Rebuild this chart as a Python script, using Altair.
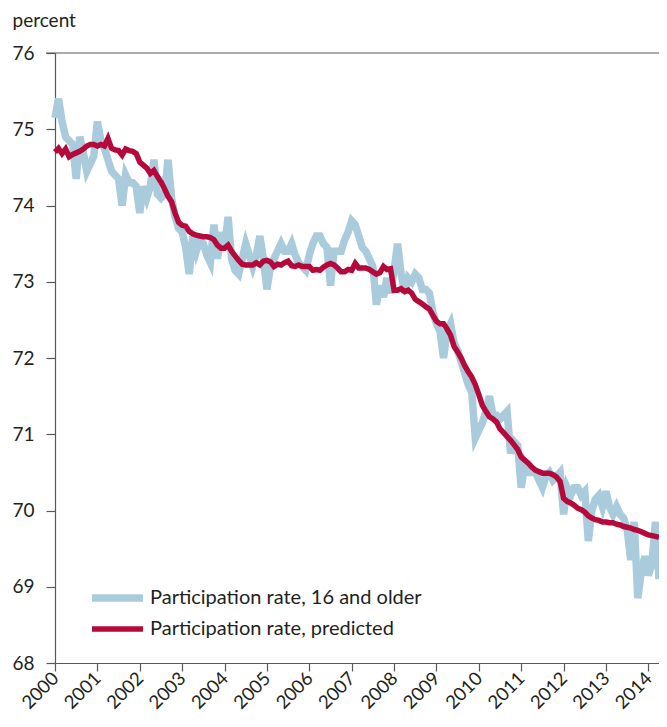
import altair as alt
import pandas as pd

# Monthly values, Jan 2000 .. Apr 2014 (172 months)
actual = [
    # 2000
    75.15, 75.4, 75.1, 74.9, 74.85, 74.8, 74.35, 74.9, 74.7, 74.45, 74.55, 74.65,
    # 2001
    75.1, 74.85, 74.75, 74.6, 74.45, 74.4, 74.35, 74.0, 74.4, 74.3, 74.3, 74.25,
    # 2002
    73.9, 74.25, 74.1, 74.25, 74.6, 74.15, 74.1, 74.15, 74.6, 74.1, 73.85, 73.7,
    # 2003
    73.65, 73.45, 73.1, 73.6, 73.4, 73.55, 73.5, 73.35, 73.25, 73.75, 73.3, 73.65,
    # 2004
    73.45, 73.85, 73.3, 73.15, 73.1, 73.3, 73.5, 73.35, 73.2, 73.35, 73.6, 73.3,
    # 2005
    72.9, 73.2, 73.3, 73.4, 73.5, 73.4, 73.4, 73.5, 73.35, 73.25, 73.2, 73.15,
    # 2006
    73.35, 73.5, 73.6, 73.6, 73.5, 73.45, 72.95, 73.4, 73.4, 73.4, 73.55, 73.65,
    # 2007
    73.8, 73.75, 73.6, 73.45, 73.4, 73.3, 73.2, 72.7, 72.95, 72.8, 73.05, 72.85,
    # 2008
    73.15, 73.5, 73.1, 72.85, 73.05, 73.0, 73.1, 73.05, 72.9, 72.9, 72.85, 72.6,
    # 2009
    72.45, 72.35, 72.0, 72.35, 72.45, 72.2, 72.1, 71.95, 71.8, 71.65, 71.55, 70.95,
    # 2010
    71.05, 71.15, 71.3, 71.5, 71.25, 71.25, 71.2, 71.25, 71.3, 70.75, 70.9, 70.85,
    # 2011
    70.3, 70.6, 70.5, 70.5, 70.5, 70.4, 70.3, 70.45, 70.5, 70.4, 70.45, 70.5,
    # 2012
    69.95, 70.3, 70.2, 70.3, 70.3, 70.2, 70.25, 69.6, 70.0, 70.15, 70.2, 70.05,
    # 2013
    70.25, 70.05, 69.95, 70.05, 69.95, 69.9, 69.75, 69.35, 69.85, 68.85, 69.2, 69.4,
    # 2014
    69.15, 69.3, 69.85, 69.1,
]

predicted = [
    # 2000
    74.7, 74.75, 74.68, 74.74, 74.64, 74.67, 74.69, 74.71, 74.74, 74.78, 74.8, 74.8,
    # 2001
    74.78, 74.8, 74.78, 74.88, 74.75, 74.73, 74.72, 74.66, 74.74, 74.72, 74.71, 74.68,
    # 2002
    74.57, 74.53, 74.49, 74.42, 74.46, 74.38, 74.31, 74.22, 74.12, 74.05, 73.9, 73.78,
    # 2003
    73.74, 73.73, 73.66, 73.63, 73.61, 73.6, 73.59, 73.59, 73.58, 73.55, 73.48, 73.44,
    # 2004
    73.44, 73.48, 73.4, 73.34, 73.28, 73.23, 73.22, 73.22, 73.22, 73.25, 73.22, 73.27,
    # 2005
    73.28, 73.26, 73.2, 73.23, 73.22, 73.25, 73.27, 73.21, 73.2, 73.22, 73.2, 73.2,
    # 2006
    73.2, 73.15, 73.16, 73.15, 73.19, 73.22, 73.24, 73.22, 73.18, 73.13, 73.13, 73.16,
    # 2007
    73.15, 73.24, 73.18, 73.18, 73.18, 73.16, 73.13, 73.1, 73.12, 73.2, 73.16, 73.17,
    # 2008
    72.89, 72.89, 72.91, 72.87, 72.89, 72.85, 72.77, 72.74, 72.71, 72.67, 72.64, 72.56,
    # 2009
    72.48, 72.45, 72.45, 72.38, 72.3, 72.15, 72.08, 72.0, 71.9, 71.82, 71.75, 71.65,
    # 2010
    71.52, 71.38, 71.3, 71.23, 71.2, 71.16, 71.07, 71.02, 70.97, 70.92, 70.86, 70.8,
    # 2011
    70.7, 70.66, 70.62, 70.57, 70.53, 70.51, 70.49, 70.49, 70.49, 70.47, 70.44, 70.38,
    # 2012
    70.16, 70.12, 70.1, 70.07, 70.03, 70.01, 69.98, 69.93, 69.9, 69.88, 69.87, 69.85,
    # 2013
    69.85, 69.84, 69.84, 69.82, 69.81, 69.79, 69.78, 69.77, 69.75, 69.74, 69.72, 69.7,
    # 2014
    69.68, 69.67, 69.66, 69.65,
]

series_names = ["Participation rate, 16 and older", "Participation rate, predicted"]
series_colors = ["#a9cbdc", "#b5093b"]
series_widths = [7.5, 5.5]
year_ticks = list(range(2000, 2015))
y_ticks = list(range(68, 77))

rows = []
for name, vals in zip(series_names, [actual, predicted]):
    for i, v in enumerate(vals):
        rows.append({"t": 2000 + i / 12.0, "value": v, "series": name})
df = pd.DataFrame(rows)

FONT = "Lato"
TXT = "#231f20"
AX = "#58595b"

lines = alt.Chart(df).mark_line(strokeJoin="miter").encode(
    x=alt.X("t:Q",
            scale=alt.Scale(domain=[2000, 2000 + 172 / 12.0 - 1 / 12.0 + 0.001], nice=False, zero=False),
            axis=alt.Axis(values=year_ticks, format="d", title=None, labelAngle=-45,
                          labelAlign="right", labelBaseline="middle", labelPadding=4,
                          tickSize=8, labelFontSize=18.5, grid=False, labelFlush=False,
                          labelOverlap=False)),
    y=alt.Y("value:Q",
            scale=alt.Scale(domain=[68, 76], nice=False, zero=False),
            axis=alt.Axis(values=y_ticks, format="d", title="percent", titleAngle=0,
                          titleAlign="left", titleBaseline="alphabetic", titleX=-43, titleY=-27,
                          titleFontSize=19, titleFontWeight="normal", titleColor=TXT,
                          tickSize=9, labelPadding=12, labelFontSize=19, grid=False)),
    color=alt.Color("series:N",
                    scale=alt.Scale(domain=series_names, range=series_colors),
                    legend=alt.Legend(title=None, orient="none", legendX=52.5, legendY=535,
                                      symbolType="M-5.1,0H5.1", symbolSize=100,
                                      symbolStrokeWidth=6.5, labelFontSize=20,
                                      labelColor=TXT, labelFont=FONT, labelOffset=22.5,
                                      labelLimit=0, rowPadding=5)),
    strokeWidth=alt.StrokeWidth("series:N",
                                scale=alt.Scale(domain=series_names, range=series_widths),
                                legend=None),
)

top_rule = alt.Chart(pd.DataFrame({"y": [76]})).mark_rule(color=AX, strokeWidth=1).encode(
    y="y:Q",
    x=alt.value(-9),
    x2=alt.value(604),
)

chart = alt.layer(top_rule, lines).properties(
    width=604, height=610,
    autosize=alt.AutoSizeParams(type="none"),
    padding={"left": 47, "top": 45, "right": 0, "bottom": 50},
).configure(
    font=FONT,
).configure_view(
    stroke=None,
).configure_axis(
    domainColor=AX, tickColor=AX, labelColor=TXT, labelFont=FONT, titleFont=FONT,
    domainWidth=1.2, tickWidth=1.2,
)

chart.save("out.html", embed_options={"renderer": "svg", "actions": False})
